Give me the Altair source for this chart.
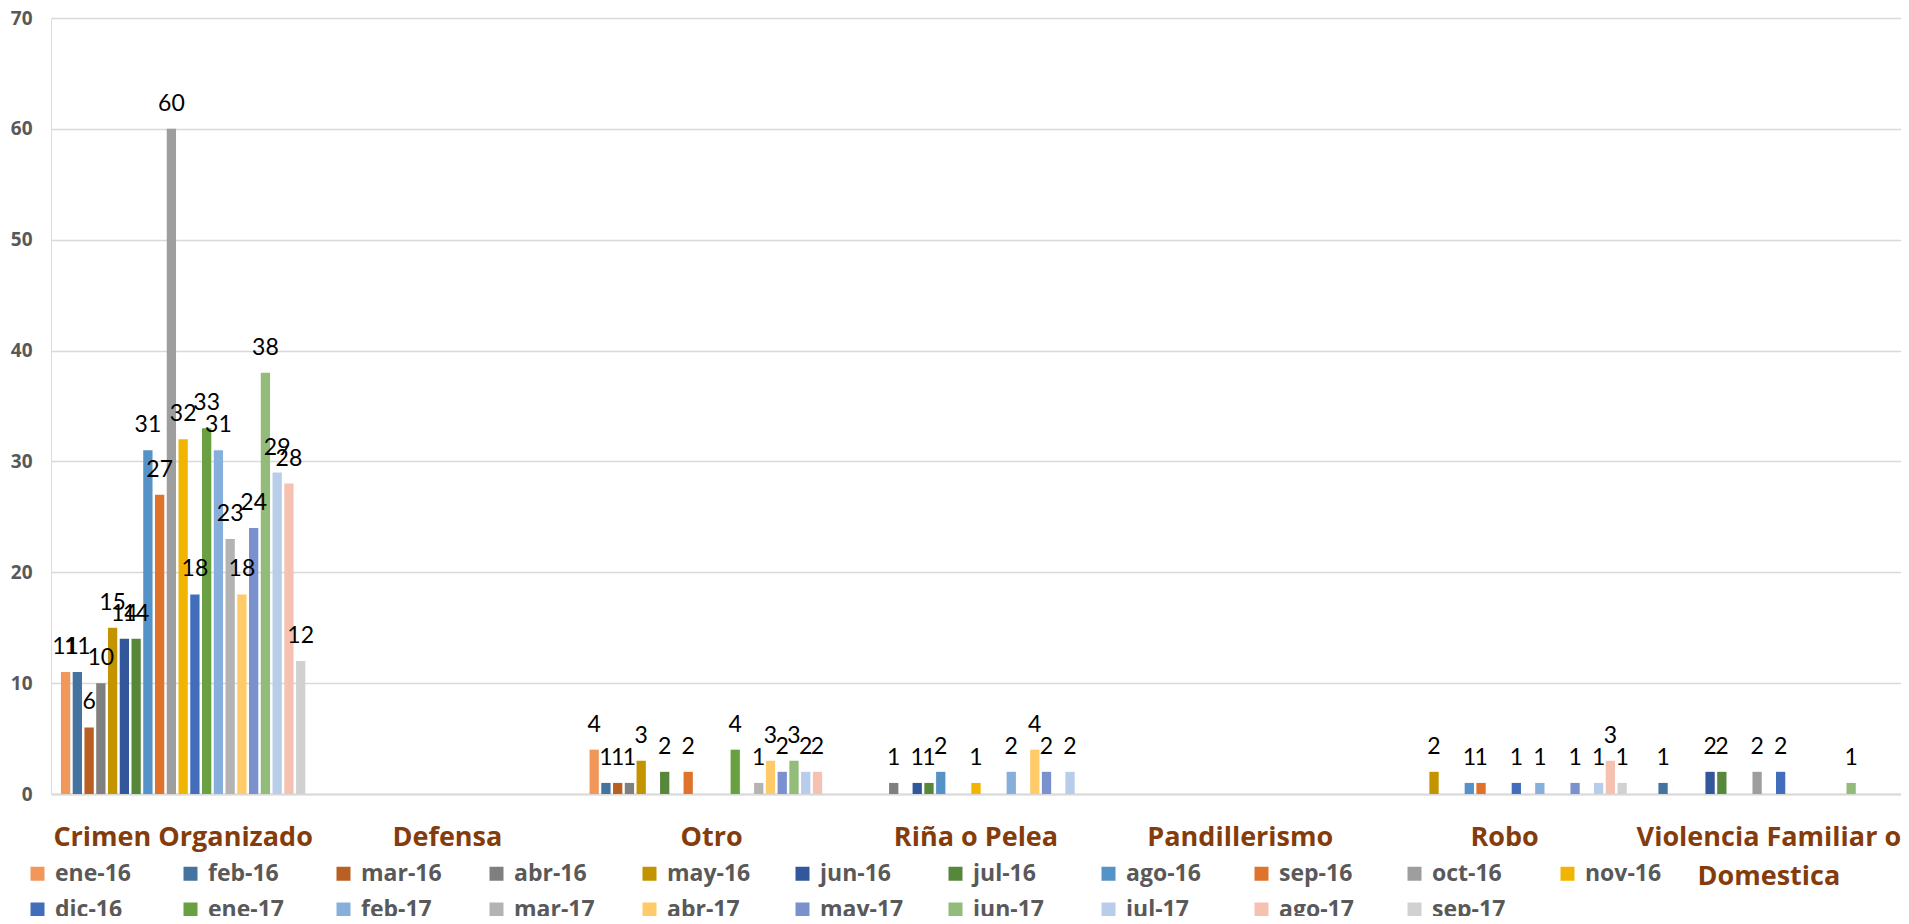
import altair as alt
import pandas as pd

categories = ["Crimen Organizado", "Defensa", "Otro", "Riña o Pelea",
              "Pandillerismo", "Robo", "Violencia Familiar o Domestica"]

series = ["ene-16", "feb-16", "mar-16", "abr-16", "may-16", "jun-16", "jul-16",
          "ago-16", "sep-16", "oct-16", "nov-16", "dic-16", "ene-17", "feb-17",
          "mar-17", "abr-17", "may-17", "jun-17", "jul-17", "ago-17", "sep-17"]

colors = ["#F1975A", "#44739F", "#B95F22", "#7F7F7F", "#C49300", "#32579A", "#56873A",
          "#5592C7", "#E0732C", "#9E9E9E", "#F1B400", "#416DBA", "#69A042", "#86AFDC",
          "#B3B3B3", "#FFCA68", "#7A91CE", "#93BB79", "#B8CDE9", "#F5C1B0", "#D1D1D1"]

crimen = [11, 11, 6, 10, 15, 14, 14, 31, 27, 60, 32, 18, 33, 31, 23, 18, 24, 38, 29, 28, 12]
defensa = [0] * 21
otro = [4, 1, 1, 1, 3, 0, 2, 0, 2, 0, 0, 0, 4, 0, 1, 3, 2, 3, 2, 2, 0]
rina = [0, 0, 0, 1, 0, 1, 1, 2, 0, 0, 1, 0, 0, 2, 0, 4, 2, 0, 2, 0, 0]
pandillerismo = [0] * 21
robo = [0, 0, 0, 0, 2, 0, 0, 1, 1, 0, 0, 1, 0, 1, 0, 0, 1, 0, 1, 3, 1]
violencia = [0, 1, 0, 0, 0, 2, 2, 0, 0, 2, 0, 2, 0, 0, 0, 0, 0, 1, 0, 0, 0]

values_by_cat = [crimen, defensa, otro, rina, pandillerismo, robo, violencia]

rows = []
for cat, vals in zip(categories, values_by_cat):
    for s, v in zip(series, vals):
        if v > 0:
            rows.append({"categoria": cat, "mes": s, "valor": v})
df = pd.DataFrame(rows)

FONT = "Open Sans"

x_enc = alt.X("categoria:N", sort=categories,
              scale=alt.Scale(domain=categories, paddingInner=0.066, paddingOuter=0.033),
              axis=alt.Axis(title=None, labelAngle=0, labelFont=FONT, labelFontSize=27,
                            labelFontWeight="bold", labelColor="#843C0C", labelPadding=30,
                            labelLimit=400, labelOverlap=False, ticks=False,
                            domain=True, domainColor="#D9D9D9", domainWidth=2,
                            labelLineHeight=39,
                            labelExpr="datum.label == 'Violencia Familiar o Domestica' ? ['Violencia Familiar o', 'Domestica'] : datum.label"))
xo_enc = alt.XOffset("mes:N", sort=series,
                     scale=alt.Scale(domain=series, paddingInner=0.21, paddingOuter=0.105))
y_enc = alt.Y("valor:Q",
              scale=alt.Scale(domain=[0, 70], nice=False),
              axis=alt.Axis(title=None, values=[0, 10, 20, 30, 40, 50, 60, 70],
                            labelFont=FONT, labelFontSize=19, labelFontWeight="bold",
                            labelColor="#595959", labelPadding=19, ticks=False,
                            domain=False, gridColor="#D9D9D9", gridWidth=1.3))

bars = alt.Chart(df).mark_bar().encode(
    x=x_enc,
    xOffset=xo_enc,
    y=y_enc,
    color=alt.Color("mes:N", sort=series,
                    scale=alt.Scale(domain=series, range=colors),
                    legend=alt.Legend(title=None, orient="none", legendX=-25, legendY=844,
                                      direction="horizontal",
                                      columns=11, gridAlign="all", columnPadding=40,
                                      rowPadding=12, symbolType="square", symbolSize=196,
                                      symbolStrokeWidth=0, labelOffset=6,
                                      labelFont=FONT, labelFontSize=23,
                                      labelFontWeight="bold", labelColor="#595959",
                                      padding=0)),
)

labels = alt.Chart(df).mark_text(font="Lato", fontSize=23, color="#000000",
                                 baseline="alphabetic", dy=-18).encode(
    x=alt.X("categoria:N", sort=categories),
    xOffset=alt.XOffset("mes:N", sort=series),
    y=alt.Y("valor:Q"),
    text=alt.Text("valor:Q"),
)

chart = (bars + labels).properties(
    width=1850, height=776,
    autosize=alt.AutoSizeParams(type="none"),
    padding={"left": 43, "top": 10, "right": 0, "bottom": 122},
).configure_view(stroke=None).configure(background="white")

chart.save("out.html", embed_options={"renderer": "svg", "actions": False})
